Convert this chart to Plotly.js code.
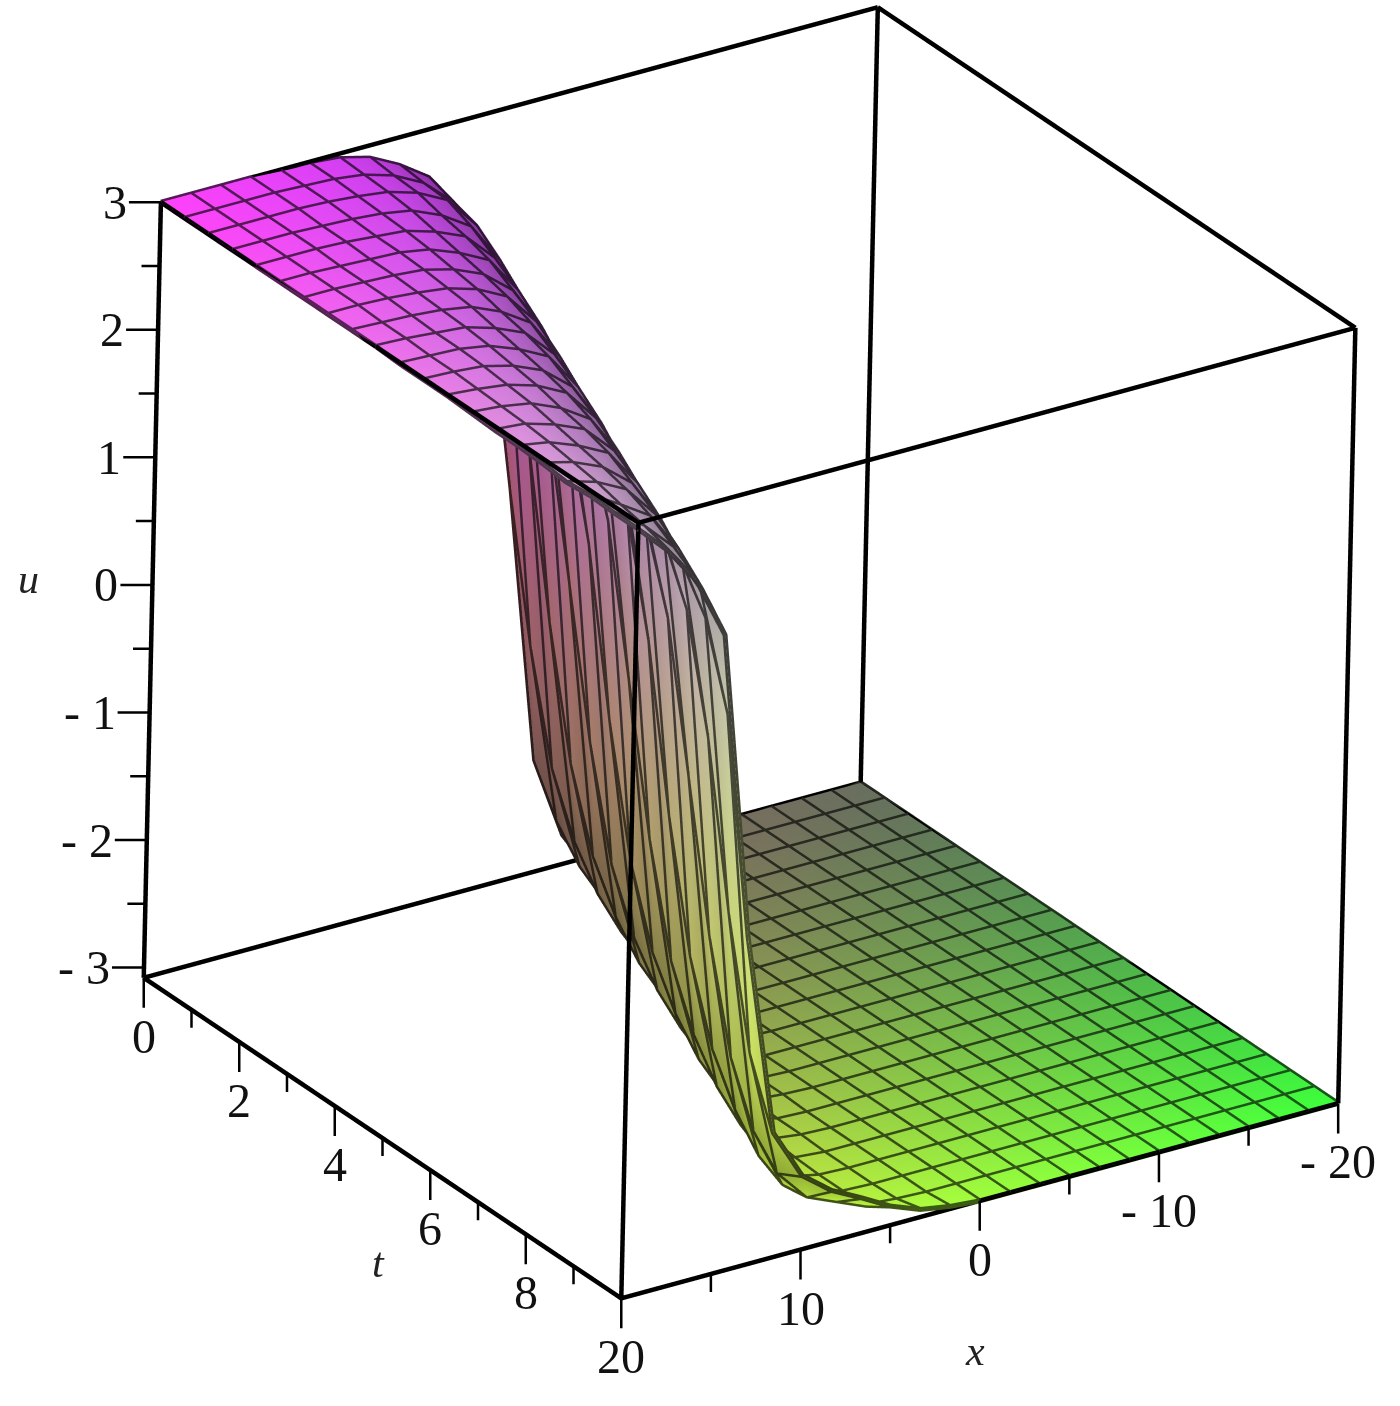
<!DOCTYPE html>
<html>
<head>
<meta charset="utf-8">
<script src="https://cdn.plot.ly/plotly-3.0.1.min.js"></script>
<style>html,body{margin:0;background:#fff}#chart{width:1400px;height:1406px;filter:blur(0.6px)}</style>
</head>
<body>
<div id="chart"></div>
<script>
const xVals = [-20,-18.33,-16.67,-15,-13.33,-11.67,-10,-8.33,-6.67,-5,-3.33,-1.67,0,1.67,3.33,5,6.67,8.33,10,11.67,13.33,15,16.67,18.33,20];
const tVals = [0,0.5,1,1.5,2,2.5,3,3.5,4,4.5,5,5.5,6,6.5,7,7.5,8,8.5,9,9.5,10];
// u, one row per t, one column per x
const uRows = [
  [-3.08,-3.08,-3.08,-3.08,-3.08,-3.08,-3.08,-3.08,-3.07,-3.04,-2.85,-2.2,0,1.85,2.32,2.62,2.78,2.9,2.96,2.98,2.99,3,3,3,3],
  [-3.08,-3.08,-3.08,-3.08,-3.08,-3.08,-3.08,-3.08,-3.08,-3.06,-2.96,-2.55,-1.12,1.5,2.2,2.55,2.76,2.88,2.95,2.98,2.99,3,3,3,3],
  [-3.08,-3.08,-3.08,-3.08,-3.08,-3.08,-3.08,-3.08,-3.08,-3.07,-3.02,-2.78,-1.95,0.62,2.05,2.49,2.75,2.87,2.94,2.97,2.99,3,3,3,3],
  [-3.08,-3.08,-3.08,-3.08,-3.08,-3.08,-3.08,-3.08,-3.08,-3.07,-3.05,-2.91,-2.4,-0.62,1.75,2.34,2.67,2.82,2.92,2.96,2.98,2.99,3,3,3],
  [-3.08,-3.08,-3.08,-3.08,-3.08,-3.08,-3.08,-3.08,-3.08,-3.08,-3.07,-2.99,-2.68,-1.6,1.12,2.16,2.55,2.78,2.88,2.95,2.97,2.99,3,3,3],
  [-3.08,-3.08,-3.08,-3.08,-3.08,-3.08,-3.08,-3.08,-3.08,-3.08,-3.07,-3.04,-2.85,-2.2,0,1.93,2.42,2.72,2.84,2.93,2.97,2.98,2.99,3,3],
  [-3.08,-3.08,-3.08,-3.08,-3.08,-3.08,-3.08,-3.08,-3.08,-3.08,-3.08,-3.06,-2.96,-2.55,-1.12,1.5,2.26,2.61,2.8,2.9,2.96,2.98,2.99,3,3],
  [-3.08,-3.08,-3.08,-3.08,-3.08,-3.08,-3.08,-3.08,-3.08,-3.08,-3.08,-3.07,-3.02,-2.78,-1.95,0.62,2.05,2.49,2.75,2.87,2.94,2.97,2.99,3,3],
  [-3.08,-3.08,-3.08,-3.08,-3.08,-3.08,-3.08,-3.08,-3.08,-3.08,-3.08,-3.07,-3.05,-2.91,-2.4,-0.62,1.75,2.34,2.67,2.82,2.92,2.96,2.98,2.99,3],
  [-3.08,-3.08,-3.08,-3.08,-3.08,-3.08,-3.08,-3.08,-3.08,-3.08,-3.08,-3.08,-3.07,-2.99,-2.68,-1.6,1.12,2.16,2.55,2.78,2.88,2.95,2.97,2.99,3],
  [-3.08,-3.08,-3.08,-3.08,-3.08,-3.08,-3.08,-3.08,-3.08,-3.08,-3.08,-3.08,-3.07,-3.04,-2.85,-2.2,0,1.93,2.42,2.72,2.84,2.93,2.97,2.98,2.99],
  [-3.08,-3.08,-3.08,-3.08,-3.08,-3.08,-3.08,-3.08,-3.08,-3.08,-3.08,-3.08,-3.08,-3.06,-2.96,-2.55,-1.12,1.5,2.26,2.61,2.8,2.9,2.96,2.98,2.99],
  [-3.08,-3.08,-3.08,-3.08,-3.08,-3.08,-3.08,-3.08,-3.08,-3.08,-3.08,-3.08,-3.08,-3.07,-3.02,-2.78,-1.95,0.62,2.05,2.49,2.75,2.87,2.94,2.97,2.99],
  [-3.08,-3.08,-3.08,-3.08,-3.08,-3.08,-3.08,-3.08,-3.08,-3.08,-3.08,-3.08,-3.08,-3.07,-3.05,-2.91,-2.4,-0.62,1.75,2.34,2.67,2.82,2.92,2.96,2.98],
  [-3.08,-3.08,-3.08,-3.08,-3.08,-3.08,-3.08,-3.08,-3.08,-3.08,-3.08,-3.08,-3.08,-3.08,-3.07,-2.99,-2.68,-1.6,1.12,2.16,2.55,2.78,2.88,2.95,2.97],
  [-3.08,-3.08,-3.08,-3.08,-3.08,-3.08,-3.08,-3.08,-3.08,-3.08,-3.08,-3.08,-3.08,-3.08,-3.07,-3.04,-2.85,-2.2,0,1.93,2.42,2.72,2.84,2.93,2.97],
  [-3.08,-3.08,-3.08,-3.08,-3.08,-3.08,-3.08,-3.08,-3.08,-3.08,-3.08,-3.08,-3.08,-3.08,-3.08,-3.06,-2.96,-2.55,-1.12,1.5,2.26,2.61,2.8,2.9,2.96],
  [-3.08,-3.08,-3.08,-3.08,-3.08,-3.08,-3.08,-3.08,-3.08,-3.08,-3.08,-3.08,-3.08,-3.08,-3.08,-3.07,-3.02,-2.78,-1.95,0.62,2.05,2.49,2.75,2.87,2.94],
  [-3.08,-3.08,-3.08,-3.08,-3.08,-3.08,-3.08,-3.08,-3.08,-3.08,-3.08,-3.08,-3.08,-3.08,-3.08,-3.07,-3,-2.88,-2.4,-0.62,1.75,2.34,2.67,2.82,2.96],
  [-3.08,-3.08,-3.08,-3.08,-3.08,-3.08,-3.08,-3.08,-3.08,-3.08,-3.08,-3.08,-3.08,-3.08,-3.07,-3.05,-2.95,-2.85,-2.6,-1.6,1.12,2.16,2.55,2.78,2.95],
  [-3.08,-3.08,-3.08,-3.08,-3.08,-3.08,-3.08,-3.08,-3.08,-3.08,-3.08,-3.08,-3.08,-3.06,-3.02,-2.93,-2.8,-2.68,-2.5,-2.1,-0.5,1.93,2.42,2.72,2.95]
];
const xRange = [-20, 20];
const tRange = [0, 10];
const uRange = [-3.08, 3];
const xTicks = [-20, -10, 0, 10, 20];
const xTickText = ['- 20', '- 10', '0', '10', '20'];
const xMinor = [-15, -5, 5, 15];
const tTicks = [0, 2, 4, 6, 8];
const tTickText = ['0', '2', '4', '6', '8'];
const tMinor = [1, 3, 5, 7, 9];
const uTicks = [-3, -2, -1, 0, 1, 2, 3];
const uTickText = ['- 3', '- 2', '- 1', '0', '1', '2', '3'];
const uMinor = [-2.5, -1.5, -0.5, 0.5, 1.5, 2.5];

const FONT = { family: '"Liberation Serif", serif', size: 48, color: '#111' };

// colour at a vertex: low/high t blended, picked by eye from the reference
function vertexRgb(x, t, u) {
  const a = t / 10, b = (u + 3.08) / 6.08, c = (x + 20) / 40;
  const r0 = 105 + 80 * c + 30 * b + 40 * c * c * b, r1 = 60 + 200 * c - 40 * b;
  const g0 = 110 - 45 * b, g1 = 255 - 65 * b;
  const b0 = b < 0.5 ? 95 + 20 * b : 105 + 290 * (b - 0.5), b1 = 60 + 160 * b;
  // the rounded shoulders of the wall turn away from the light
  const w = Math.abs(u);
  const shoulder = w < 2.6 ? Math.max(0, (w - 1.5) / 1.1) : Math.max(0, (3 - w) / 0.4);
  const f = 1 - 0.3 * shoulder;
  const mix = (p, q, m) => Math.min(255, (p + (q - p) * m) * f);
  return [mix(r0, r1, a), mix(g0, g1, Math.pow(a, 1.3)), mix(b0, b1, a)];
}
function rgbText(c, f) {
  return `rgb(${Math.round(c[0] * f)},${Math.round(c[1] * f)},${Math.round(c[2] * f)})`;
}

// surface as mesh so every vertex can carry its own rgb
const mx = [], my = [], mz = [], mc = [], fi = [], fj = [], fk = [];
tVals.forEach((t, i) => xVals.forEach((x, j) => {
  mx.push(x); my.push(t); mz.push(uRows[i][j]); mc.push(rgbText(vertexRgb(x, t, uRows[i][j]), 1));
}));
const nx = xVals.length;
for (let i = 0; i < tVals.length - 1; i++) {
  for (let j = 0; j < nx - 1; j++) {
    const p = i * nx + j;
    fi.push(p, p); fj.push(p + 1, p + nx + 1); fk.push(p + nx + 1, p + nx);
  }
}

// wireframe, a darker shade of the surface under it
const wx = [], wy = [], wz = [], wc = [];
function wirePoint(x, t, u) {
  wx.push(x); wy.push(t); wz.push(u); wc.push(rgbText(vertexRgb(x, t, u), 0.35));
}
function wireBreak() {
  wx.push(null); wy.push(null); wz.push(null); wc.push('rgb(0,0,0)');
}
tVals.forEach((t, i) => { xVals.forEach((x, j) => wirePoint(x, t, uRows[i][j])); wireBreak(); });
xVals.forEach((x, j) => { tVals.forEach((t, i) => wirePoint(x, t, uRows[i][j])); wireBreak(); });

// the 12 edges of the box
const bx = [], by = [], bz = [];
function edge(a, b) {
  bx.push(a[0], b[0], null); by.push(a[1], b[1], null); bz.push(a[2], b[2], null);
}
for (const p of tRange) for (const q of uRange) edge([xRange[0], p, q], [xRange[1], p, q]);
for (const p of xRange) for (const q of uRange) edge([p, tRange[0], q], [p, tRange[1], q]);
for (const p of xRange) for (const q of tRange) edge([p, q, uRange[0]], [p, q, uRange[1]]);

const data = [
  { type: 'mesh3d', x: mx, y: my, z: mz, i: fi, j: fj, k: fk, vertexcolor: mc,
    lighting: { ambient: 1, diffuse: 0, specular: 0, fresnel: 0, roughness: 1 }, hoverinfo: 'skip' },
  { type: 'scatter3d', mode: 'lines', x: wx, y: wy, z: wz, connectgaps: false,
    line: { color: wc, width: 10 }, hoverinfo: 'skip', showlegend: false },
  { type: 'scatter3d', mode: 'lines', x: bx, y: by, z: bz, connectgaps: false,
    line: { color: '#000', width: 9 }, hoverinfo: 'skip', showlegend: false }
];

// ticks and tick labels, hung on data positions
function tick(x, y, z, ax, ay, text) {
  return { x, y, z, ax, ay, text, showarrow: true, arrowhead: 0, arrowwidth: 2.5, arrowcolor: '#000',
    standoff: 0, font: FONT, xanchor: ax ? 'right' : 'center', yanchor: ax ? 'middle' : 'top' };
}
const notes = [];
xTicks.forEach((v, i) => notes.push(tick(v, tRange[1], uRange[0], 0, 30, xTickText[i])));
xMinor.forEach((v) => notes.push(tick(v, tRange[1], uRange[0], 0, 18, ' ')));
tTicks.forEach((v, i) => notes.push(tick(xRange[1], v, uRange[0], 0, 30, tTickText[i])));
tMinor.forEach((v) => notes.push(tick(xRange[1], v, uRange[0], 0, 18, ' ')));
uTicks.forEach((v, i) => notes.push(tick(xRange[1], tRange[0], v, -32, 0, uTickText[i])));
uMinor.forEach((v) => notes.push(tick(xRange[1], tRange[0], v, -18, 0, ' ')));
function axisName(x, y, z, xshift, yshift, text) {
  return { x, y, z, xshift, yshift, text, showarrow: false, font: { family: FONT.family, size: 42, color: '#222' } };
}
notes.push(axisName(0, tRange[1], uRange[0], -5, -150, '<i>x</i>'));
notes.push(axisName(xRange[1], 5, uRange[0], -4, -125, '<i>t</i>'));
notes.push(axisName(xRange[1], tRange[0], 0, -124, 6, '<i>u</i>'));

// a hair wider than the box: marks sitting exactly on the bound get clipped by the gl scene
function plainAxis(range) {
  const pad = (range[1] - range[0]) * 0.001;
  return { range: [range[0] - pad, range[1] + pad], autorange: false, title: { text: '' }, showgrid: false,
    showline: false, zeroline: false, showticklabels: false, ticks: '', showbackground: false, showspikes: false };
}
const dir = [0.506, 0.744, 0.4347];
const R = 1.8;
const center = { x: 0.0748, y: -0.0125, z: -0.0657 };
const zoom = 1.228;

const layout = {
  width: 1400, height: 1406,
  paper_bgcolor: '#fff',
  margin: { l: 0, r: 0, t: 0, b: 0 },
  showlegend: false,
  hovermode: false,
  scene: {
    domain: { x: [0, 1], y: [0, 1] },
    bgcolor: '#fff',
    dragmode: 'orbit',
    aspectmode: 'manual', aspectratio: { x: zoom, y: zoom, z: zoom },
    xaxis: plainAxis(xRange), yaxis: plainAxis(tRange), zaxis: plainAxis(uRange),
    camera: {
      projection: { type: 'orthographic' },
      up: { x: 0.0165, y: -0.0112, z: 1 },
      center,
      eye: { x: center.x + dir[0] * R, y: center.y + dir[1] * R, z: center.z + dir[2] * R }
    },
    annotations: notes
  }
};

Plotly.newPlot('chart', data, layout, { displayModeBar: false, responsive: false });
</script>
</body>
</html>
